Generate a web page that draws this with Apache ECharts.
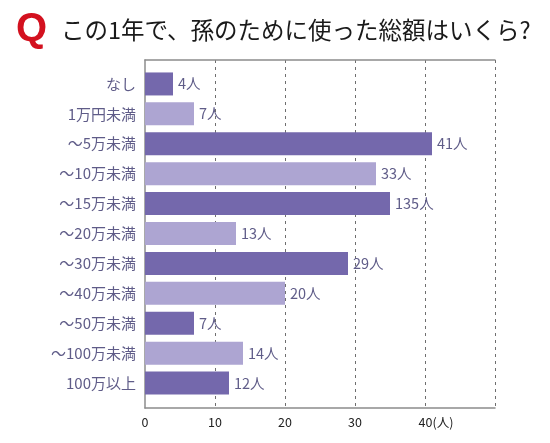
<!DOCTYPE html>
<html>
<head>
<meta charset="utf-8">
<script src="https://cdn.jsdelivr.net/npm/echarts@6/dist/echarts.min.js"></script>
<style>
html,body{margin:0;padding:0;background:#fff;}
#main{width:550px;height:443px;}
</style>
</head>
<body>
<div id="main"></div>
<script>
const titleMark = 'Q';
const titleText = 'この1年で、孫のために使った総額はいくら?';
const categories = ['なし','1万円未満','～5万未満','～10万未満','～15万未満','～20万未満','～30万未満','～40万未満','～50万未満','～100万未満','100万以上'];
const values = [4, 7, 41, 33, 35, 13, 29, 20, 7, 14, 12];
const valueLabels = ['4人','7人','41人','33人','135人','13人','29人','20人','7人','14人','12人'];
const xTicks = [0, 10, 20, 30, 40];
const xUnit = '(人)';
const xMax = 50;

const darkColor = '#7468ac';
const lightColor = '#ada5d2';
const textColor = '#5f5c88';
const font = '"Noto Sans CJK JP", "Noto Sans", sans-serif';

const chart = echarts.init(document.getElementById('main'), null, {renderer: 'canvas'});
chart.setOption({
  backgroundColor: '#ffffff',
  animation: false,
  title: [
    {text: titleMark, left: 11, top: 5,
     textStyle: {fontFamily: '"Liberation Sans", Arial, sans-serif', fontWeight: 'bold', fontSize: 40, color: '#d3111f'}},
    {text: titleText, left: 56, top: 13,
     textStyle: {fontFamily: font, fontWeight: 'normal', fontSize: 23.5, color: '#1a1a1a'}}
  ],
  grid: [
    {left: 145, right: 55, top: 60, bottom: 35, containLabel: false},
    {left: 145, right: 55, top: 69, bottom: 45, containLabel: false}
  ],
  xAxis: [
    {type: 'value', gridIndex: 0, min: 0, max: xMax, interval: 10, position: 'bottom',
     axisLine: {show: true, lineStyle: {color: '#8c8c8c', width: 1.5}},
     axisTick: {show: false},
     axisLabel: {show: true, margin: 8, fontSize: 12.5, color: '#222', fontFamily: font,
       formatter: function (v) {
         if (xTicks.indexOf(v) < 0) return '';
         if (v === xTicks[xTicks.length - 1]) return '{s| }' + v + '{u|' + xUnit + '}';
         return String(v);
       },
       rich: {
         s: {width: 22, fontSize: 12.5},
         u: {fontSize: 12.5, color: '#222', fontFamily: font}
       }
     },
     splitLine: {show: true, showMinLine: false, lineStyle: {color: '#6e6e6e', width: 1, type: [3, 4]}}
    },
    {type: 'value', gridIndex: 0, min: 0, max: xMax, position: 'top',
     axisLine: {show: true, lineStyle: {color: '#8c8c8c', width: 1.5}},
     axisTick: {show: false}, axisLabel: {show: false}, splitLine: {show: false}},
    {type: 'value', gridIndex: 1, min: 0, max: xMax, show: false}
  ],
  yAxis: [
    {type: 'value', gridIndex: 0, min: 0, max: 1, position: 'left',
     axisLine: {show: true, lineStyle: {color: '#8c8c8c', width: 1.5}},
     axisTick: {show: false}, axisLabel: {show: false}, splitLine: {show: false}},
    {type: 'category', gridIndex: 1, data: categories, inverse: true,
     axisLine: {show: false}, axisTick: {show: false}, splitLine: {show: false},
     axisLabel: {margin: 9, fontSize: 15, color: textColor, fontFamily: font}}
  ],
  series: [
    {type: 'bar', xAxisIndex: 2, yAxisIndex: 1, data: values, barWidth: 23,
     itemStyle: {color: function (p) { return p.dataIndex % 2 === 0 ? darkColor : lightColor; }},
     label: {show: true, position: 'right', distance: 5, fontSize: 14.5, color: textColor, fontFamily: font,
       formatter: function (p) { return valueLabels[p.dataIndex]; }}
    }
  ]
});
</script>
</body>
</html>
